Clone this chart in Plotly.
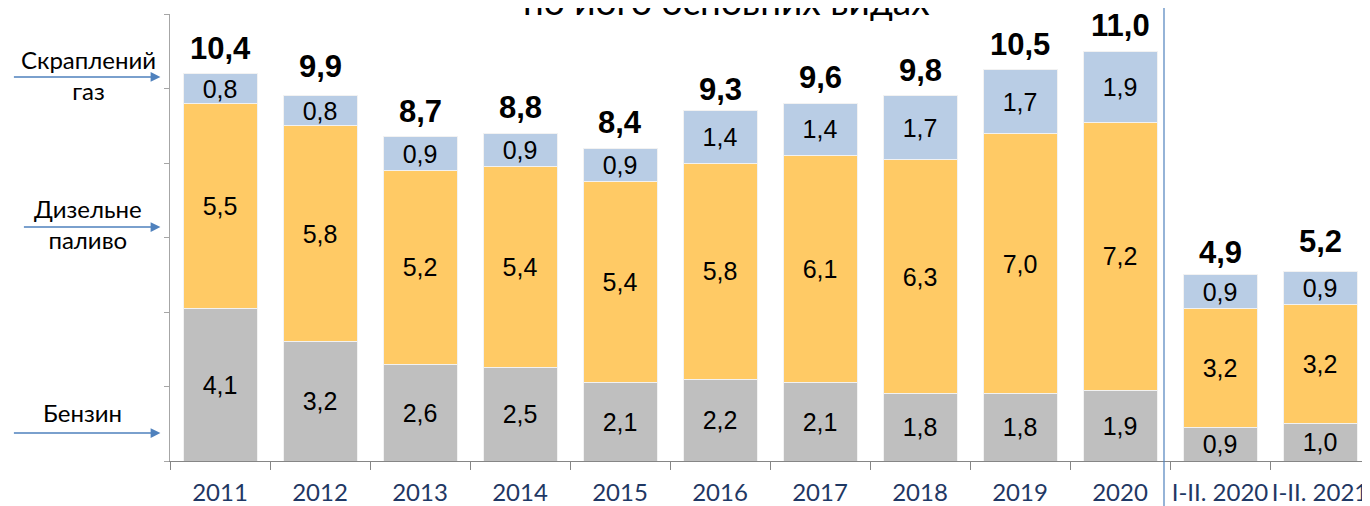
import plotly.graph_objects as go

categories = ["2011", "2012", "2013", "2014", "2015", "2016", "2017", "2018", "2019", "2020",
              "I-II. 2020", "I-II. 2021"]
benzyn = [4.1, 3.2, 2.6, 2.5, 2.1, 2.2, 2.1, 1.8, 1.8, 1.9, 0.9, 1.0]
dyzel = [5.5, 5.8, 5.2, 5.4, 5.4, 5.8, 6.1, 6.3, 7.0, 7.2, 3.2, 3.2]
gaz = [0.8, 0.8, 0.9, 0.9, 0.9, 1.4, 1.4, 1.7, 1.7, 1.9, 0.9, 0.9]
totals = [10.4, 9.9, 8.7, 8.8, 8.4, 9.3, 9.6, 9.8, 10.5, 11.0, 4.9, 5.2]
series_names = ["Бензин", "Дизельне паливо", "Скраплений газ"]
title_text = "по його основних видах"


def fmt(v):
    return f"{v:.1f}".replace(".", ",")


colors = ["#BFBFBF", "#FFCA65", "#B9CDE5"]
inner_font = dict(family="Liberation Sans, Arial", size=25, color="black")

fig = go.Figure()
for name, vals, col in zip(series_names, [benzyn, dyzel, gaz], colors):
    fig.add_trace(go.Bar(
        x=list(categories), y=list(vals), name=name,
        marker=dict(color=col, line=dict(color="#F2F2F2", width=1)),
        text=[fmt(v) for v in vals], textposition="inside", insidetextanchor="middle",
        textangle=0, textfont=inner_font, constraintext="none",
        showlegend=False,
    ))

annotations = []
for i, t in enumerate(totals):
    annotations.append(dict(
        x=i, y=t, xref="x", yref="y", text=fmt(t),
        showarrow=False, yanchor="bottom", yshift=6,
        font=dict(family="Liberation Sans, Arial", size=31, color="black", weight="bold"),
    ))

label_font = dict(family="Lato, Open Sans", size=24, color="black")
# side labels
annotations.append(dict(x=-0.0683, y=10.36, xref="paper", yref="y", text="Скраплений<br>газ",
                        xanchor="center", showarrow=False, font=label_font, align="center"))
annotations.append(dict(x=-0.0683, y=6.36, xref="paper", yref="y", text="Дизельне<br>паливо",
                        xanchor="center", showarrow=False, font=label_font, align="center"))
annotations.append(dict(x=-0.073, y=1.29, xref="paper", yref="y", text="Бензин",
                        xanchor="center", showarrow=False, font=label_font, align="center"))
# arrows
for ytip, xtail_px in [(10.31, 148), (6.28, 138), (0.75, 148)]:
    annotations.append(dict(x=-0.008, y=ytip, xref="paper", yref="y", ax=-xtail_px, ay=0,
                            axref="pixel", ayref="pixel",
                            text="", showarrow=True, arrowhead=2, arrowsize=1.3,
                            arrowwidth=1.5, arrowcolor="#4F81BD"))
# partially cut title
annotations.append(dict(x=(726 - 170) / 1200, y=1.030, xref="paper", yref="paper",
                        text=title_text, showarrow=False, yanchor="middle", xanchor="center",
                        font=dict(family="Lato, Open Sans", size=37, color="black")))

# page body has an 8px margin: size the figure so the plot area lands where the reference has it
fig.update_layout(
    barmode="stack",
    bargap=0.26,
    width=1362, height=498,
    margin=dict(l=162, r=0, t=6, b=45),
    plot_bgcolor="white", paper_bgcolor="white",
    annotations=annotations,
    shapes=[dict(type="line", xref="paper", yref="paper",
                 x0=(1164 - 170) / 1200, x1=(1164 - 170) / 1200, y0=-0.2, y1=1.1,
                 line=dict(color="#4F81BD", width=1.2))],
)
fig.update_xaxes(
    type="category", range=[-0.5, 11.5], autorange=False,
    showline=True, linecolor="#868686", linewidth=1,
    ticks="outside", tickson="boundaries", ticklen=8, tickcolor="#868686",
    tickfont=dict(family="Lato, Open Sans", size=24, color="#1F3864"),
    ticklabelstandoff=10,
    showgrid=False, tickangle=0,
)
fig.update_yaxes(
    range=[0, 12], dtick=2, showticklabels=False, showgrid=False, zeroline=False,
    showline=True, linecolor="#A6A6A6", linewidth=1,
    ticks="outside", ticklen=5, tickcolor="#A6A6A6",
)
fig.write_html("out.html")
